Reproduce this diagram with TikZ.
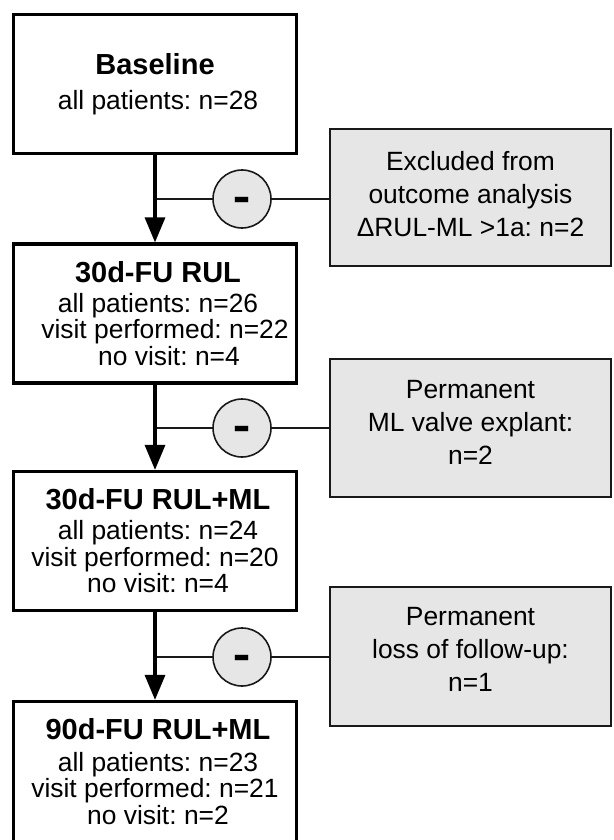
\documentclass[tikz,border=0pt]{standalone}
\usepackage{fontspec}
\usepackage{graphicx}
\setmainfont{Liberation Sans}
\usetikzlibrary{arrows.meta}
\frenchspacing
\definecolor{boxgray}{RGB}{230,230,230}
\definecolor{ink}{RGB}{25,25,25}
\newcommand\flowtitle[1]{{\fontsize{29}{30}\selectfont\bfseries #1}}
\newcommand\dropdepth[1]{\rule[-#1]{0pt}{#1}}
\begin{document}
\begin{tikzpicture}[x=1pt,y=-1pt,
  mainbox/.style={draw=black, line width=3.2pt, fill=white, minimum width=283pt,
    minimum height=139pt, inner sep=0pt, align=center,
    font=\fontsize{26.4}{26.7}\selectfont},
  exclbox/.style={draw=ink, line width=2pt, fill=boxgray, minimum width=281pt,
    minimum height=137pt, inner sep=0pt, align=center,
    font=\fontsize{26.4}{33}\selectfont},
  minuscirc/.style={circle, draw=ink, line width=1.6pt, fill=boxgray,
    minimum size=58pt, inner sep=0pt, text height=0pt, text depth=0pt,
    font=\fontsize{27}{27}\selectfont\bfseries},
  flowarrow/.style={line width=3.2pt, -{Triangle[length=25pt,width=20pt]}},
  sideline/.style={line width=1.5pt, draw=ink}]
\useasboundingbox (0,0) rectangle (613,840);

% main boxes
\node[mainbox] (b1) at (155,84)
  {\flowtitle{Baseline}\\[8pt]\hspace*{6pt}all patients: n=28};
\node[mainbox] (b2) at (155,313.5)
  {\hspace*{6pt}\flowtitle{30d-FU RUL}\\[3pt]\hspace*{6pt}all patients: n=26\\
   \hspace*{20pt}visit performed: n=22\\ \hspace*{28pt}no visit: n=4};
\node[mainbox] (b3) at (155,541)
  {\hspace*{6pt}\flowtitle{30d-FU RUL+ML}\\[3pt]\hspace*{6pt}all patients: n=24\\
   visit performed: n=20\\ \hspace*{6pt}no visit: n=4};
\node[mainbox, minimum height=143pt] (b4) at (155,773)
  {\hspace*{6pt}\flowtitle{90d-FU RUL+ML}\\[5pt]\hspace*{6pt}all patients: n=23\\
   visit performed: n=21\\ \hspace*{6pt}no visit: n=2\dropdepth{3pt}};

% exclusion boxes
\node[exclbox] (g1) at (470.5,197.5)
  {Excluded from\\outcome analysis\\ΔRUL-ML >1a: n=2\dropdepth{8pt}};
\node[exclbox, minimum height=138pt] (g2) at (470.5,428)
  {Permanent\\ML valve explant:\\n=2\dropdepth{12pt}};
\node[exclbox, minimum height=139pt] (g3) at (470.5,656.5)
  {Permanent\\loss of follow-up:\\n=1\dropdepth{14pt}};

% minus circles
\coordinate (k1) at (155,199);
\coordinate (k2) at (155,428);
\coordinate (k3) at (155,657);
\draw[sideline] (k1) -- (g1.west |- k1);
\draw[sideline] (k2) -- (g2.west |- k2);
\draw[sideline] (k3) -- (g3.west |- k3);
\node[minuscirc] (c1) at (242,199) {\raisebox{-15pt}{\scalebox{1}[2]{–}}};
\node[minuscirc] (c2) at (242,428) {\raisebox{-15pt}{\scalebox{1}[2]{–}}};
\node[minuscirc] (c3) at (242,657) {\raisebox{-15pt}{\scalebox{1}[2]{–}}};

% flow arrows
\draw[flowarrow] (b1.south) -- (b2.north);
\draw[flowarrow] (b2.south) -- (b3.north);
\draw[flowarrow] (b3.south) -- (b4.north);
\end{tikzpicture}
\end{document}
